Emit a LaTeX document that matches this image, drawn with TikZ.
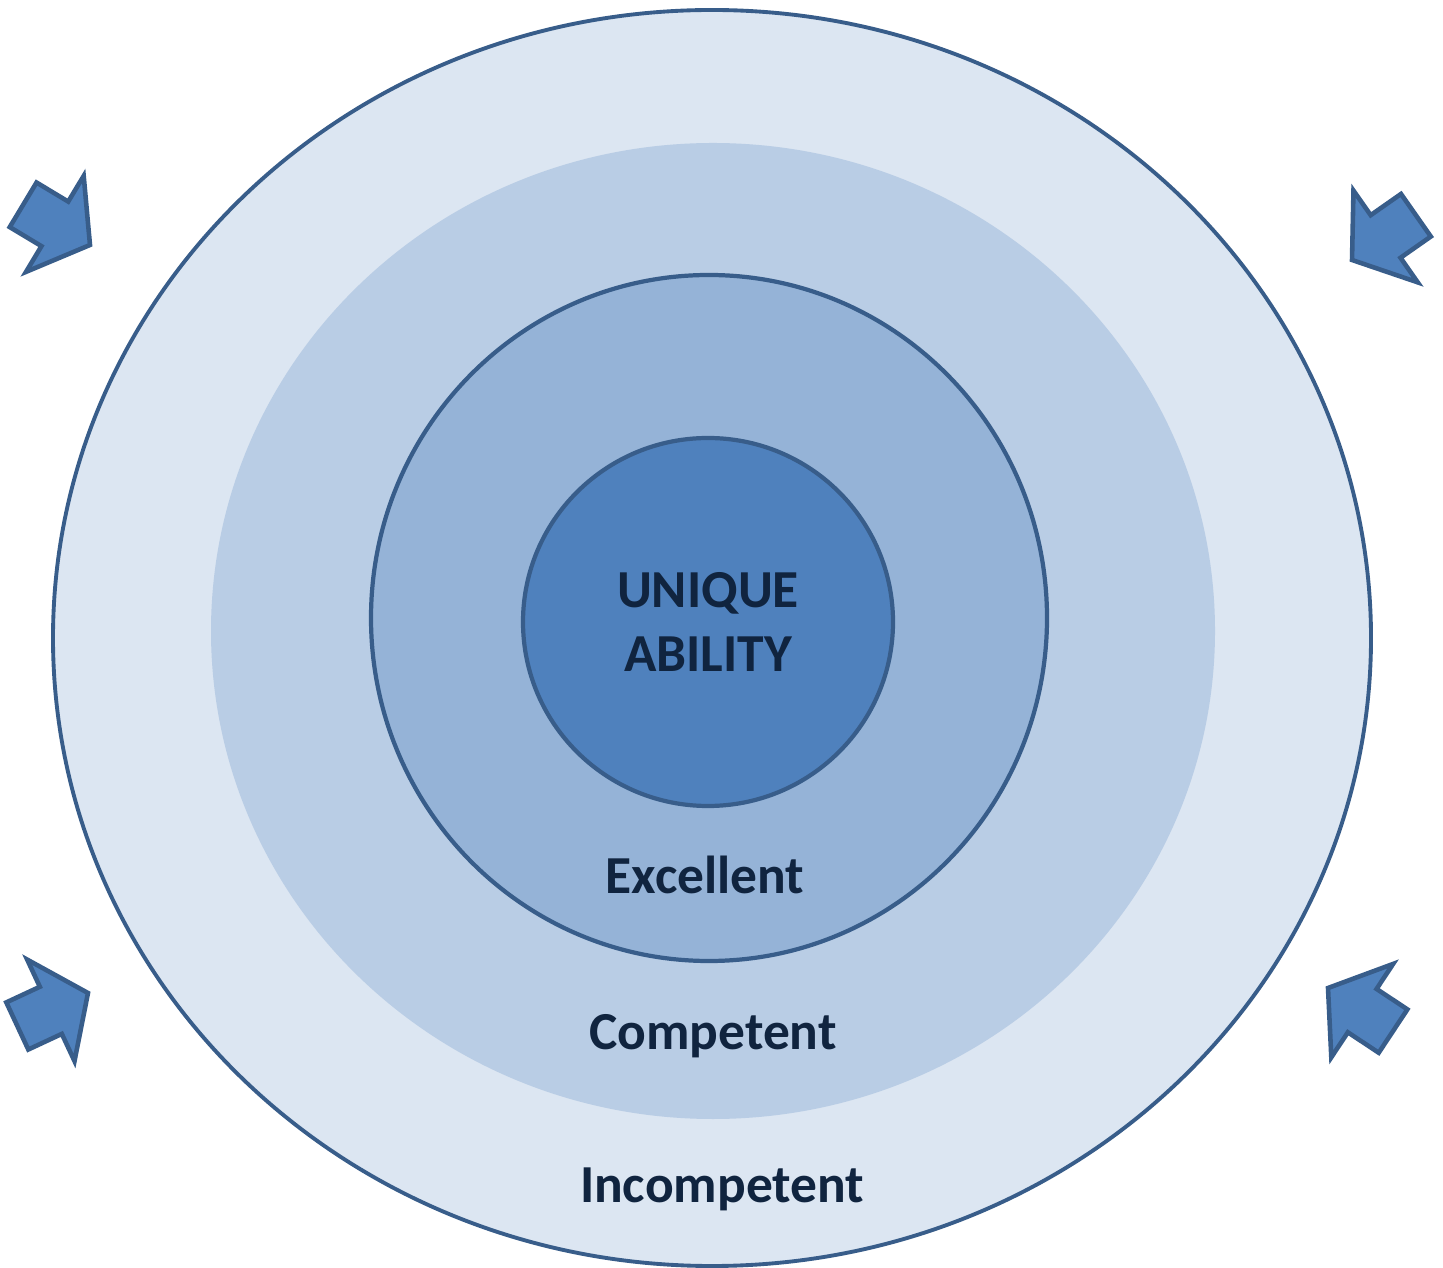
\documentclass[tikz,border=0pt]{standalone}
\usepackage{fontspec}
\setmainfont{Carlito}
\definecolor{ringpale}{HTML}{DCE6F2}
\definecolor{ringlight}{HTML}{B9CDE5}
\definecolor{ringmid}{HTML}{95B3D7}
\definecolor{coreblue}{HTML}{4F81BD}
\definecolor{rimblue}{HTML}{385D8A}
\definecolor{labelblue}{HTML}{10243F}
\begin{document}
\begin{tikzpicture}[x=0.01cm,y=-0.01cm,
    every node/.style={font=\bfseries\fontsize{15.2}{18.2}\selectfont,text=labelblue,anchor=base},
    rim/.style={draw=rimblue,line width=1.1pt},
    pusharrow/.pic={\draw[rim,line width=1.3pt,fill=coreblue] (0,0) -- (-41,56) -- (-41,26) -- (-78,26) -- (-78,-26) -- (-41,-26) -- (-41,-56) -- cycle;}]
	\useasboundingbox (0,0) rectangle (1443,1268);
	% rings, outside in
	\draw[rim,fill=ringpale] (712,638) ellipse (659 and 628);
	\fill[ringlight] (713,631) ellipse (502 and 488);
	\draw[rim,line width=1.2pt,fill=ringmid] (709,618) ellipse (338 and 343);
	\draw[rim,line width=1.2pt,fill=coreblue] (708,622) ellipse (185 and 184);
	\node (unique) at (708,608) {UNIQUE};
	\node (ability) at (708,672) {ABILITY};
	\node (excellent) at (705,893) {Excellent};
	\node (competent) at (713,1049) {Competent};
	\node (incompetent) at (722,1202) {Incompetent};
	% arrows pushing in from the corners
	\foreach \px/\py/\ang [count=\i] in {90/245/-31,1352/260/-145,88/993/25,1328/988/146.5}
		\pic[rotate=\ang] (push\i) at (\px,\py) {pusharrow};
\end{tikzpicture}
\end{document}
